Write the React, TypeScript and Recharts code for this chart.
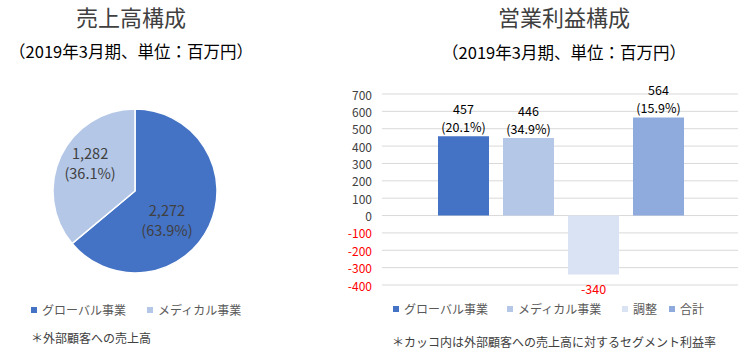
import React from "react";
import { PieChart, Pie, Cell, BarChart, Bar, XAxis, YAxis, CartesianGrid, LabelList } from "recharts";

const FONT = '"Noto Sans CJK JP", "Noto Sans", sans-serif';

// ---- data ----
const pieNames = ["グローバル事業", "メディカル事業"];
const pieValues = [2272, 1282];
const pieShares = ["63.9%", "36.1%"];

const barNames = ["グローバル事業", "メディカル事業", "調整", "合計"];
const barKeys = ["global", "medical", "adjust", "total"];
const barValues = [457, 446, -340, 564];
const barMargins = ["20.1%", "34.9%", "", "15.9%"];
const yTicks = [-400, -300, -200, -100, 0, 100, 200, 300, 400, 500, 600, 700];

const leftTitle = "売上高構成";
const rightTitle = "営業利益構成";
const subtitle = "（2019年3月期、単位：百万円）";
const leftNote = "＊外部顧客への売上高";
const rightNote = "＊カッコ内は外部顧客への売上高に対するセグメント利益率";

// ---- styles ----
const pieColors = ["#4472C4", "#B4C7E7"];
const barColors = ["#4472C4", "#B4C7E7", "#DAE3F3", "#8FAADC"];
const pieLabelAdjust = [
  { da: -17, r: 43 },
  { da: -7, r: 53 },
];
const pieLegendX = [31, 147];
const barLegendX = [393, 507, 622, 669];

const pieData = pieNames.map((n, i) => ({ name: n, value: pieValues[i], share: pieShares[i] }));
const barRow: Record<string, any> = { name: "2019" };
barKeys.forEach((k, i) => (barRow[k] = barValues[i]));
const barData = [barRow];

const fmt = (v: number) => v.toLocaleString("en-US");

const PieLabel = (props: any) => {
  const { cx, cy, midAngle, index } = props;
  const adj = pieLabelAdjust[index];
  const a = ((midAngle + adj.da) * Math.PI) / 180;
  const x = cx + adj.r * Math.cos(a);
  const y = cy - adj.r * Math.sin(a);
  return (
    <text x={x} y={y} textAnchor="middle" fill="#404040" fontSize={14.5} fontFamily={FONT}>
      <tspan x={x} dy={-10} dominantBaseline="central">{fmt(pieData[index].value)}</tspan>
      <tspan x={x} dy={20} dominantBaseline="central">({pieData[index].share})</tspan>
    </text>
  );
};

const YTick = (props: any) => {
  const { x, y, payload } = props;
  const v = payload.value;
  return (
    <text x={x} y={y} textAnchor="end" dominantBaseline="central" fontSize={12} fontFamily={FONT} fill={v < 0 ? "#FF0000" : "#404040"}>
      {v}
    </text>
  );
};

const makeBarLabel = (i: number) => (props: any) => {
  const { x, y, width, height } = props;
  const top = Math.min(y, y + height);
  const bottom = Math.max(y, y + height);
  const cx = x + width / 2;
  const v = barValues[i];
  if (v < 0) {
    return (
      <text x={cx} y={bottom + 14} textAnchor="middle" dominantBaseline="central" fontSize={12.5} fontFamily={FONT} fill="#FF0000">
        {fmt(v)}
      </text>
    );
  }
  return (
    <g>
      <text x={cx} y={top - 28} textAnchor="middle" dominantBaseline="central" fontSize={12.5} fontFamily={FONT} fill="#000000">
        {fmt(v)}
      </text>
      {barMargins[i] ? (
        <text x={cx} y={top - 10} textAnchor="middle" dominantBaseline="central" fontSize={12.5} fontFamily={FONT} fill="#000000">
          ({barMargins[i]})
        </text>
      ) : null}
    </g>
  );
};

const abs = (left: number, top: number, extra: React.CSSProperties = {}): React.CSSProperties => ({
  position: "absolute",
  left,
  top,
  whiteSpace: "nowrap",
  fontFamily: FONT,
  lineHeight: 1,
  ...extra,
});

const LegendItem = ({ x, y, color, label }: { x: number; y: number; color: string; label: string }) => (
  <div style={abs(x, y - 6, { display: "flex", alignItems: "center", fontSize: 12, color: "#595959", height: 12 })}>
    <span style={{ display: "inline-block", width: 6, height: 6, background: color, marginRight: 5 }} />
    <span>{label}</span>
  </div>
);

export default function App() {
  return (
    <div style={{ position: "absolute", left: 0, top: 0, width: 752, height: 356, background: "#fff", overflow: "hidden", fontFamily: FONT }}>
      {/* Left titles */}
      <div style={abs(0, 5, { width: 262, textAlign: "center", fontSize: 22, color: "#404040" })}>{leftTitle}</div>
      <div style={abs(0, 43, { width: 262, textAlign: "center", fontSize: 16.5, color: "#000" })}>{subtitle}</div>

      {/* Pie */}
      <div style={abs(0, 95)}>
        <PieChart width={270} height={190} margin={{ top: 0, right: 0, bottom: 0, left: 0 }}>
          <Pie
            data={pieData}
            dataKey="value"
            cx={135}
            cy={96}
            outerRadius={82}
            startAngle={90}
            endAngle={-270}
            stroke="#ffffff"
            strokeWidth={1.5}
            label={PieLabel}
            labelLine={false}
            isAnimationActive={false}
          >
            {pieData.map((_, i) => (
              <Cell key={i} fill={pieColors[i]} />
            ))}
          </Pie>
        </PieChart>
      </div>

      {pieNames.map((n, i) => (
        <LegendItem key={n} x={pieLegendX[i]} y={310} color={pieColors[i]} label={n} />
      ))}
      <div style={abs(31, 332, { fontSize: 12, color: "#404040" })}>{leftNote}</div>

      {/* Right titles */}
      <div style={abs(430, 5, { width: 268, textAlign: "center", fontSize: 22, color: "#404040" })}>{rightTitle}</div>
      <div style={abs(430, 44, { width: 268, textAlign: "center", fontSize: 16.5, color: "#000" })}>{subtitle}</div>

      {/* Bar chart */}
      <div style={abs(330, 64)}>
        <BarChart
          width={420}
          height={235}
          data={barData}
          margin={{ top: 30, right: 12, left: 0, bottom: 14 }}
          barGap={14}
          barCategoryGap={56}
        >
          <CartesianGrid vertical={false} stroke="#D9D9D9" />
          <XAxis dataKey="name" hide />
          <YAxis
            width={52}
            domain={[-400, 700]}
            ticks={yTicks}
            interval={0}
            axisLine={false}
            tickLine={false}
            tickMargin={4}
            tick={<YTick />}
          />
          {barKeys.map((k, i) => (
            <Bar key={k} dataKey={k} fill={barColors[i]} isAnimationActive={false}>
              <LabelList dataKey={k} content={makeBarLabel(i)} />
            </Bar>
          ))}
        </BarChart>
      </div>

      {barNames.map((n, i) => (
        <LegendItem key={n} x={barLegendX[i]} y={309} color={barColors[i]} label={n} />
      ))}
      <div style={abs(392, 336, { fontSize: 12, color: "#404040" })}>{rightNote}</div>
    </div>
  );
}
